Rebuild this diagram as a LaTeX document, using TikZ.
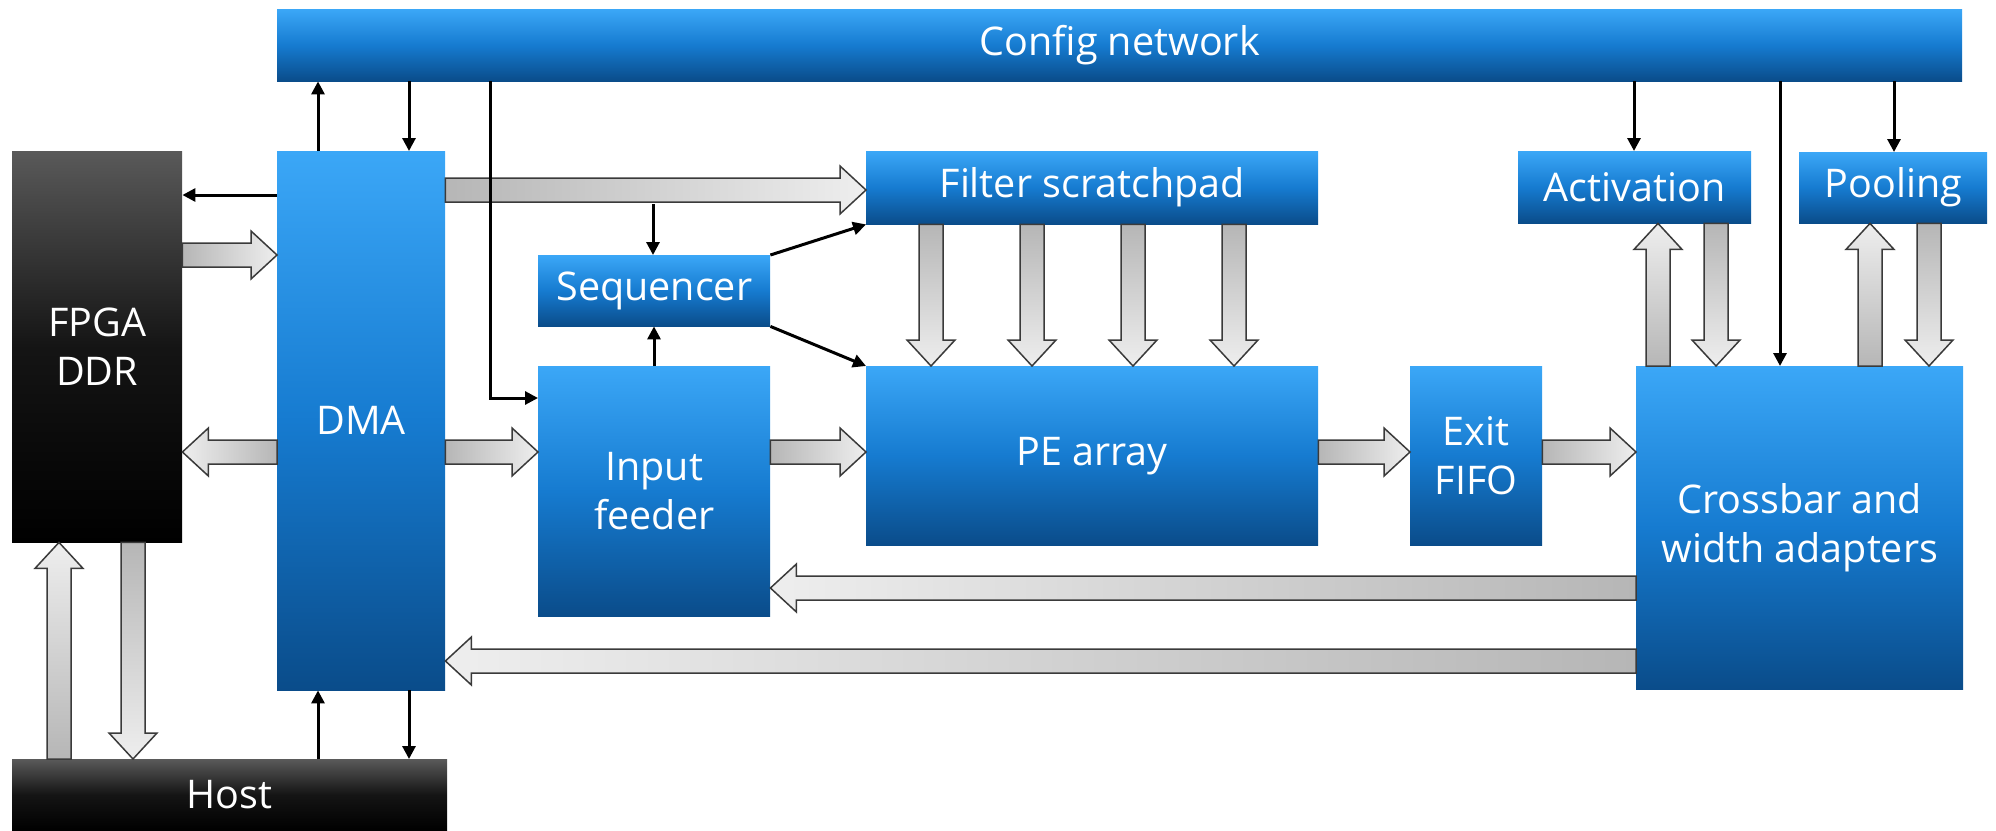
\documentclass[tikz,border=0pt]{standalone}
\usepackage{fontspec}
\setmainfont{Open Sans}
\usetikzlibrary{arrows.meta,calc}
\definecolor{btop}{HTML}{3BA7F7}
\definecolor{bmid}{HTML}{167BD0}
\definecolor{bbot}{HTML}{0A4C8A}
\definecolor{gdark}{HTML}{B6B6B6}
\definecolor{glight}{HTML}{EEEEEE}
\definecolor{kedge}{HTML}{3A3A3A}
\newcommand\lbl{\fontsize{39.5}{49}\selectfont}
\newcommand\blkh[3]{%
  \path[barr,#1] let \p1=#2, \p2=#3, \n1={\x2-sign(\x2-\x1)*26pt} in
  (\x1,{\y1+12pt}) -- ({\n1*1pt},{\y1+12pt}) -- ({\n1*1pt},{\y1+24pt}) -- (\x2,\y1)
  -- ({\n1*1pt},{\y1-24pt}) -- ({\n1*1pt},{\y1-12pt}) -- (\x1,{\y1-12pt}) -- cycle;}
\newcommand\blkv[3]{%
  \path[barr,#1] let \p1=#2, \p2=#3, \n1={\y2-sign(\y2-\y1)*26pt} in
  ({\x1-12pt},\y1) -- ({\x1-12pt},{\n1*1pt}) -- ({\x1-24pt},{\n1*1pt}) -- (\x1,\y2)
  -- ({\x1+24pt},{\n1*1pt}) -- ({\x1+12pt},{\n1*1pt}) -- ({\x1+12pt},\y1) -- cycle;}
\tikzset{
  box/.style={draw=none, inner sep=0pt, anchor=north west, text=white, align=center,
    font=\lbl, top color=btop, bottom color=bbot, middle color=bmid},
  dbox/.style={box, top color=black!65, bottom color=black, middle color=black!92},
  barr/.style={draw=kedge, line width=1.5pt, line join=miter},
  shr/.style={left color=gdark, right color=glight},
  shl/.style={left color=glight, right color=gdark},
  shd/.style={top color=gdark, bottom color=glight},
  shu/.style={top color=glight, bottom color=gdark},
  ctl/.style={draw=black, line width=3pt, -{Triangle[length=13pt,width=13pt]}},
}
\begin{document}
\begin{tikzpicture}[x=1pt,y=-1pt]
\useasboundingbox (0,0) rectangle (1996,830);
% boxes
\node[box, minimum width=1685pt, minimum height=72pt] (config) at (277,9) {Config network};
\node[dbox, minimum width=170pt, minimum height=391pt] (fpga) at (12,151) {FPGA\\DDR};
\node[box, minimum width=168pt, minimum height=539pt] (dma) at (277,151) {DMA};
\node[dbox, minimum width=435pt, minimum height=71pt] (host) at (12,759) {Host};
\node[box, minimum width=232pt, minimum height=71pt] (seq) at (538,255) {Sequencer};
\node[box, minimum width=232pt, minimum height=250pt] (feeder) at (538,366) {Input\\feeder};
\node[box, minimum width=452pt, minimum height=73pt] (filter) at (866,151) {Filter scratchpad};
\node[box, minimum width=452pt, minimum height=179pt] (pe) at (866,366) {PE array};
\node[box, minimum width=132pt, minimum height=179pt] (exitf) at (1410,366) {Exit\\FIFO};
\node[box, minimum width=327pt, minimum height=323pt] (xbar) at (1636,366) {Crossbar and\\width adapters};
\node[box, minimum width=233pt, minimum height=72pt] (act) at (1518,151) {Activation};
\node[box, minimum width=188pt, minimum height=71pt] (pool) at (1799,152) {Pooling};
% block arrows
\blkh{shr}{(fpga.east |- 0,255)}{(dma.west |- 0,255)}
\blkh{shl}{(dma.west |- 0,452)}{(fpga.east |- 0,452)}
\blkh{shr}{(dma.east |- 0,190)}{(filter.west |- 0,190)}
\blkh{shr}{(dma.east |- 0,452)}{(feeder.west |- 0,452)}
\blkh{shr}{(feeder.east |- 0,452)}{(pe.west |- 0,452)}
\blkh{shr}{(pe.east |- 0,452)}{(exitf.west |- 0,452)}
\blkh{shr}{(exitf.east |- 0,452)}{(xbar.west |- 0,452)}
\blkh{shl}{(xbar.west |- 0,588)}{(feeder.east |- 0,588)}
\blkh{shl}{(xbar.west |- 0,661)}{(dma.east |- 0,661)}
\blkv{shu}{(host.north -| 59,0)}{(fpga.south -| 59,0)}
\blkv{shd}{(fpga.south -| 133,0)}{(host.north -| 133,0)}
\foreach \xx in {931,1032,1133,1234}{\blkv{shd}{(filter.south -| \xx,0)}{(pe.north -| \xx,0)}}
\blkv{shu}{(xbar.north -| 1658,0)}{(act.south -| 1658,0)}
\blkv{shd}{(act.south -| 1716,0)}{(xbar.north -| 1716,0)}
\blkv{shu}{(xbar.north -| 1870,0)}{(pool.south -| 1870,0)}
\blkv{shd}{(pool.south -| 1929,0)}{(xbar.north -| 1929,0)}
% control arrows
\coordinate (tap) at (653,204);
\draw[ctl] (dma.north -| 318,0) -- (config.south -| 318,0);
\draw[ctl] (config.south -| 409,0) -- (dma.north -| 409,0);
\draw[ctl] (config.south -| 490,0) |- (feeder.west |- 0,398);
\draw[ctl] (dma.west |- 0,195) -- (fpga.east |- 0,195);
\draw[ctl] (tap) -- (seq.north -| tap);
\draw[ctl] (feeder.north -| 654,0) -- (seq.south -| 654,0);
\draw[ctl] (seq.north east) -- (filter.south west);
\draw[ctl] (seq.south east) -- (pe.north west);
\draw[ctl] (config.south -| 1634,0) -- (act.north -| 1634,0);
\draw[ctl] (config.south -| 1780,0) -- (xbar.north -| 1780,0);
\draw[ctl] (config.south -| 1894,0) -- (pool.north -| 1894,0);
\draw[ctl] (host.north -| 318,0) -- (dma.south -| 318,0);
\draw[ctl] (dma.south -| 409,0) -- (host.north -| 409,0);
\end{tikzpicture}
\end{document}
